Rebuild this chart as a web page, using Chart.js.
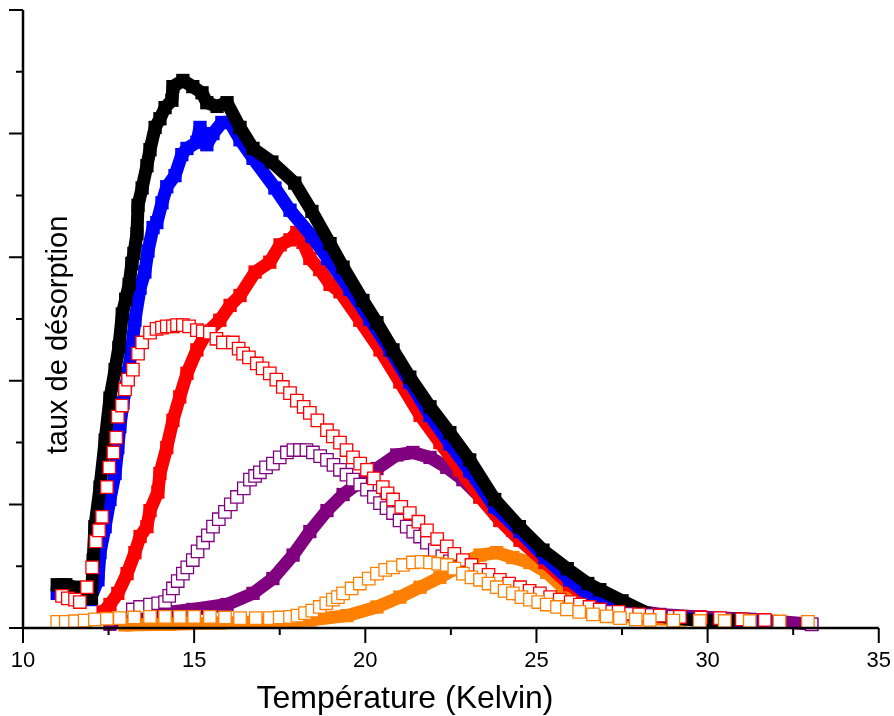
<!DOCTYPE html>
<html>
<head>
<meta charset="utf-8">
<script src="https://cdn.jsdelivr.net/npm/chart.js@4"></script>
<style>
  body { margin: 0; background: #fff; }
</style>
</head>
<body>
<canvas id="chart" width="894" height="716"></canvas>
<script>
// temperatures (K) and desorption rates
const blackT = [11.0, 11.25, 11.5, 11.75, 12.0, 12.05, 12.1, 12.25, 12.4, 12.54, 12.69, 12.8, 12.9, 13.0, 13.1, 13.18, 13.24, 13.33, 13.36, 13.48, 13.62, 13.71, 13.86, 14.0, 14.15, 14.35, 14.38, 14.67, 14.96, 15.23, 15.37, 15.67, 15.96, 16.34, 16.72, 17.27, 17.94, 18.44, 18.97, 19.35, 19.93, 20.34, 20.81, 21.3, 21.89, 22.47, 23.05, 23.78, 24.5, 25.19, 25.9, 26.5, 26.85, 27.5, 28.31, 29.0, 29.77, 30.5, 30.94, 31.17];
const blackY = [0.35, 0.35, 0.33, 0.28, 0.24, 0.55, 0.82, 1.14, 1.52, 1.86, 2.09, 2.27, 2.54, 2.66, 2.78, 2.95, 3.03, 3.19, 3.42, 3.56, 3.74, 3.87, 4.05, 4.12, 4.21, 4.27, 4.38, 4.43, 4.38, 4.33, 4.25, 4.22, 4.25, 4.05, 3.88, 3.77, 3.60, 3.37, 3.11, 2.92, 2.65, 2.47, 2.25, 2.03, 1.79, 1.58, 1.36, 1.04, 0.82, 0.63, 0.48, 0.36, 0.31, 0.22, 0.11, 0.08, 0.06, 0.055, 0.07, 0.065];

const blueT = [11.0, 11.5, 11.96, 12.19, 12.25, 12.4, 12.54, 12.69, 12.77, 12.83, 12.92, 13.07, 13.18, 13.27, 13.42, 13.56, 13.65, 13.8, 13.91, 14.06, 14.2, 14.44, 14.64, 14.79, 15.08, 15.17, 15.37, 15.55, 15.81, 16.05, 16.34, 16.72, 17.36, 17.8, 18.44, 18.9, 19.55, 20.13, 20.72, 21.3, 21.89, 22.47, 23.05, 23.78, 24.52, 25.25, 25.97, 26.56, 27.14, 28.0, 29.19, 30.36, 31.8];
const blueY = [0.28, 0.27, 0.23, 0.39, 0.61, 0.82, 1.04, 1.25, 1.46, 1.63, 1.82, 2.06, 2.27, 2.49, 2.75, 2.88, 3.05, 3.24, 3.28, 3.44, 3.57, 3.66, 3.83, 3.88, 3.93, 4.05, 3.91, 4.0, 4.09, 4.09, 3.95, 3.80, 3.56, 3.38, 3.17, 2.99, 2.74, 2.50, 2.25, 1.99, 1.72, 1.49, 1.27, 0.98, 0.78, 0.57, 0.39, 0.26, 0.18, 0.12, 0.08, 0.06, 0.05];

const redT = [12.34, 12.54, 12.77, 13.04, 13.27, 13.42, 13.62, 13.71, 13.94, 14.0, 14.2, 14.38, 14.58, 14.79, 15.08, 15.37, 15.75, 16.05, 16.34, 16.78, 17.21, 17.51, 17.8, 18.0, 18.18, 18.38, 18.67, 18.97, 19.26, 19.84, 20.43, 21.01, 21.6, 22.18, 22.76, 23.35, 23.93, 24.52, 25.25, 25.97, 26.56, 27.14, 28.0, 29.19, 30.36, 31.67];
const redY = [0.13, 0.19, 0.28, 0.44, 0.61, 0.74, 0.82, 0.95, 1.10, 1.25, 1.46, 1.68, 1.87, 2.06, 2.25, 2.39, 2.49, 2.61, 2.69, 2.88, 2.96, 3.10, 3.14, 3.20, 3.12, 2.99, 2.90, 2.78, 2.72, 2.49, 2.25, 1.99, 1.72, 1.50, 1.28, 1.06, 0.87, 0.71, 0.53, 0.35, 0.23, 0.16, 0.11, 0.08, 0.065, 0.057];

const redOpenT = [11.14, 11.31, 11.52, 11.66, 11.87, 12.02, 12.13, 12.22, 12.31, 12.45, 12.52, 12.64, 12.72, 12.77, 12.89, 12.98, 13.07, 13.21, 13.36, 13.48, 13.71, 13.9, 14.06, 14.2, 14.38, 14.5, 14.67, 14.85, 15.08, 15.25, 15.46, 15.65, 15.84, 16.13, 16.3, 16.43, 16.6, 16.83, 17.0, 17.21, 17.4, 17.59, 17.8, 18.0, 18.2, 18.38, 18.6, 18.88, 19.05, 19.26, 19.45, 19.64, 19.85, 20.05, 20.25, 20.51, 20.65, 20.81, 21.05, 21.3, 21.55, 21.8, 22.1, 22.38, 22.6, 22.85, 23.1, 23.35, 23.6, 23.93, 24.2, 24.52, 24.8, 25.1, 25.4, 25.68, 26.0, 26.27, 26.55, 26.85, 27.4, 28.0, 28.6, 29.19, 29.8, 30.36, 31.0, 31.67];
const redOpenY = [0.26, 0.24, 0.23, 0.21, 0.33, 0.49, 0.70, 0.79, 0.90, 1.14, 1.30, 1.42, 1.54, 1.71, 1.80, 1.93, 2.01, 2.09, 2.22, 2.31, 2.39, 2.42, 2.43, 2.44, 2.44, 2.45, 2.45, 2.44, 2.41, 2.40, 2.39, 2.34, 2.31, 2.31, 2.26, 2.22, 2.19, 2.14, 2.10, 2.06, 2.01, 1.95, 1.90, 1.84, 1.79, 1.74, 1.68, 1.60, 1.55, 1.50, 1.44, 1.38, 1.33, 1.28, 1.21, 1.14, 1.09, 1.04, 0.98, 0.93, 0.86, 0.79, 0.72, 0.66, 0.60, 0.55, 0.51, 0.47, 0.43, 0.39, 0.36, 0.33, 0.30, 0.28, 0.25, 0.23, 0.21, 0.19, 0.17, 0.15, 0.13, 0.11, 0.10, 0.09, 0.085, 0.08, 0.07, 0.065];

const purpleOpenT = [13.21, 13.42, 13.71, 13.95, 14.15, 14.27, 14.38, 14.52, 14.67, 14.8, 14.96, 15.1, 15.26, 15.4, 15.55, 15.72, 15.9, 16.07, 16.25, 16.45, 16.63, 16.78, 16.92, 17.1, 17.3, 17.5, 17.71, 17.9, 18.09, 18.28, 18.47, 18.68, 18.88, 19.07, 19.26, 19.45, 19.64, 19.85, 20.05, 20.25, 20.43, 20.62, 20.81, 21.0, 21.21, 21.4, 21.6, 21.8, 22.03, 22.25, 22.47, 22.75, 23.05, 23.35, 23.64, 23.93, 24.22, 24.5, 24.81, 25.15, 25.54, 25.9, 26.27, 26.7, 27.14, 27.7, 28.31, 29.0, 29.77, 30.5, 31.23, 32.1, 33.04];
const purpleOpenY = [0.15, 0.17, 0.19, 0.20, 0.21, 0.26, 0.32, 0.38, 0.44, 0.49, 0.55, 0.62, 0.69, 0.75, 0.82, 0.88, 0.94, 1.00, 1.06, 1.13, 1.20, 1.23, 1.26, 1.30, 1.33, 1.38, 1.42, 1.44, 1.44, 1.44, 1.42, 1.39, 1.36, 1.32, 1.28, 1.24, 1.20, 1.16, 1.12, 1.06, 1.01, 0.97, 0.93, 0.87, 0.82, 0.78, 0.74, 0.69, 0.63, 0.58, 0.54, 0.49, 0.45, 0.41, 0.37, 0.34, 0.31, 0.28, 0.25, 0.22, 0.20, 0.18, 0.16, 0.145, 0.13, 0.115, 0.105, 0.09, 0.08, 0.07, 0.065, 0.05, 0.03];

const purpleT = [12.54, 12.98, 13.42, 14.0, 14.96, 15.96, 16.72, 17.3, 17.89, 18.38, 18.88, 19.35, 19.84, 20.34, 20.92, 21.39, 21.89, 22.38, 22.85, 23.35, 23.84, 24.31, 24.81, 25.25, 25.83, 26.41, 26.99, 27.73, 28.6, 29.77, 31.23, 33.04];
const purpleY = [0.03, 0.06, 0.10, 0.12, 0.15, 0.19, 0.28, 0.40, 0.59, 0.78, 0.95, 1.08, 1.18, 1.29, 1.40, 1.42, 1.38, 1.30, 1.20, 1.06, 0.93, 0.79, 0.68, 0.57, 0.43, 0.31, 0.21, 0.15, 0.11, 0.09, 0.07, 0.03];

const orangeOpenT = [11.0, 11.25, 11.52, 11.8, 12.1, 12.45, 12.83, 13.25, 13.71, 14.15, 14.58, 15.0, 15.46, 15.9, 16.34, 16.8, 17.21, 17.5, 17.8, 18.02, 18.24, 18.45, 18.67, 18.86, 19.05, 19.2, 19.35, 19.6, 19.84, 20.1, 20.34, 20.58, 20.81, 21.1, 21.39, 21.64, 21.89, 22.13, 22.38, 22.6, 22.85, 23.1, 23.35, 23.6, 23.84, 24.07, 24.31, 24.56, 24.81, 25.05, 25.3, 25.6, 25.89, 26.25, 26.65, 27.05, 27.44, 27.9, 28.31, 29.0, 29.77, 30.5, 31.23, 32.1, 32.93];
const orangeOpenY = [0.05, 0.05, 0.055, 0.06, 0.07, 0.075, 0.08, 0.085, 0.09, 0.09, 0.09, 0.09, 0.09, 0.085, 0.08, 0.08, 0.08, 0.085, 0.09, 0.10, 0.12, 0.14, 0.17, 0.20, 0.23, 0.25, 0.28, 0.32, 0.36, 0.40, 0.44, 0.47, 0.49, 0.51, 0.53, 0.535, 0.53, 0.52, 0.51, 0.48, 0.44, 0.41, 0.39, 0.36, 0.33, 0.30, 0.28, 0.25, 0.23, 0.21, 0.19, 0.17, 0.15, 0.13, 0.11, 0.095, 0.08, 0.07, 0.065, 0.06, 0.057, 0.057, 0.057, 0.053, 0.05];

const orangeT = [12.98, 14.29, 15.75, 17.21, 18.38, 19.46, 20.34, 21.01, 21.6, 22.18, 22.56, 22.97, 23.35, 23.84, 24.31, 24.81, 25.3, 25.77, 26.27, 26.65, 27.14, 28.0, 29.19];
const orangeY = [0.025, 0.03, 0.04, 0.05, 0.065, 0.10, 0.17, 0.25, 0.33, 0.41, 0.47, 0.54, 0.59, 0.61, 0.57, 0.53, 0.45, 0.33, 0.23, 0.16, 0.11, 0.08, 0.065];

const xTicks = ['10', '15', '20', '25', '30', '35'];
const xTitle = 'Température (Kelvin)';
const yTitle = 'taux de désorption';

const FONT = "'Liberation Sans', Arial, sans-serif";
Chart.defaults.font.family = FONT;

function pts(ts, ys) {
  return ts.map((t, i) => ({ x: t, y: ys[i] }));
}

function filled(label, ts, ys, color) {
  return {
    label: label,
    data: pts(ts, ys),
    showLine: true,
    borderColor: color,
    borderWidth: 13,
    borderJoinStyle: 'bevel',
    backgroundColor: color,
    pointStyle: 'rect',
    pointRadius: 9.4,
    pointBorderWidth: 0,
    pointBackgroundColor: color,
    clip: false,
  };
}

function open(label, ts, ys, color) {
  return {
    label: label,
    data: pts(ts, ys),
    showLine: false,
    pointStyle: 'rect',
    pointRadius: 8.8,
    pointBorderWidth: 1.3,
    pointBorderColor: color,
    pointBackgroundColor: '#ffffff',
    clip: false,
  };
}

// axes, ticks and titles drawn over the data like the original plot
const framePlugin = {
  id: 'frame',
  afterDatasetsDraw(chart) {
    const { ctx, chartArea: a, scales: { x, y } } = chart;
    ctx.save();
    ctx.strokeStyle = '#000';
    ctx.lineWidth = 2.5;
    ctx.beginPath();
    ctx.moveTo(a.left, a.top);
    ctx.lineTo(a.left, a.bottom);
    ctx.lineTo(a.right, a.bottom);
    ctx.stroke();

    ctx.lineWidth = 2;
    ctx.beginPath();
    for (let v = 0; v <= 5; v += 0.5) {
      const py = y.getPixelForValue(v);
      const len = v % 1 === 0 ? 14 : 7;
      ctx.moveTo(a.left - len, py);
      ctx.lineTo(a.left, py);
    }
    for (let t = 10; t <= 35; t += 2.5) {
      const px = x.getPixelForValue(t);
      const len = t % 5 === 0 ? 15 : 7;
      ctx.moveTo(px, a.bottom);
      ctx.lineTo(px, a.bottom + len);
    }
    ctx.stroke();

    ctx.fillStyle = '#000';
    ctx.font = '32px ' + FONT;
    ctx.textAlign = 'center';
    ctx.textBaseline = 'alphabetic';
    ctx.fillText(xTitle, 405, 708);

    ctx.font = '29px ' + FONT;
    ctx.translate(67, 335);
    ctx.rotate(-Math.PI / 2);
    ctx.fillText(yTitle, 0, 0);
    ctx.restore();
  }
};

const ctx = document.getElementById('chart').getContext('2d');

const chart = new Chart(ctx, {
  type: 'scatter',
  data: {
    datasets: [
      open('orange ouvert', orangeOpenT, orangeOpenY, '#ff8000'),
      open('rouge ouvert', redOpenT, redOpenY, '#ff0000'),
      open('violet ouvert', purpleOpenT, purpleOpenY, '#800080'),
      filled('noir', blackT, blackY, '#000000'),
      filled('bleu', blueT, blueY, '#0000ff'),
      filled('rouge', redT, redY, '#ff0000'),
      filled('orange', orangeT, orangeY, '#ff8000'),
      filled('violet', purpleT, purpleY, '#800080'),
    ]
  },
  options: {
    responsive: false,
    animation: false,
    layout: { autoPadding: false, padding: { left: 9, right: 15, top: 10, bottom: 39.3 } },
    plugins: { legend: { display: false }, tooltip: { enabled: false } },
    scales: {
      x: {
        type: 'linear',
        min: 10,
        max: 35,
        grid: { display: false, drawTicks: true, tickLength: 16.3 },
        border: { display: false },
        ticks: {
          stepSize: 5,
          padding: 3,
          color: '#000',
          font: { size: 22 },
          maxRotation: 0,
          callback: (v) => xTicks.includes(String(v)) ? String(v) : ''
        }
      },
      y: {
        type: 'linear',
        min: 0,
        max: 5,
        grid: { display: false, drawTicks: true, tickLength: 14 },
        border: { display: false },
        ticks: { display: false, stepSize: 0.5 }
      }
    }
  },
  plugins: [framePlugin]
});
</script>
</body>
</html>
